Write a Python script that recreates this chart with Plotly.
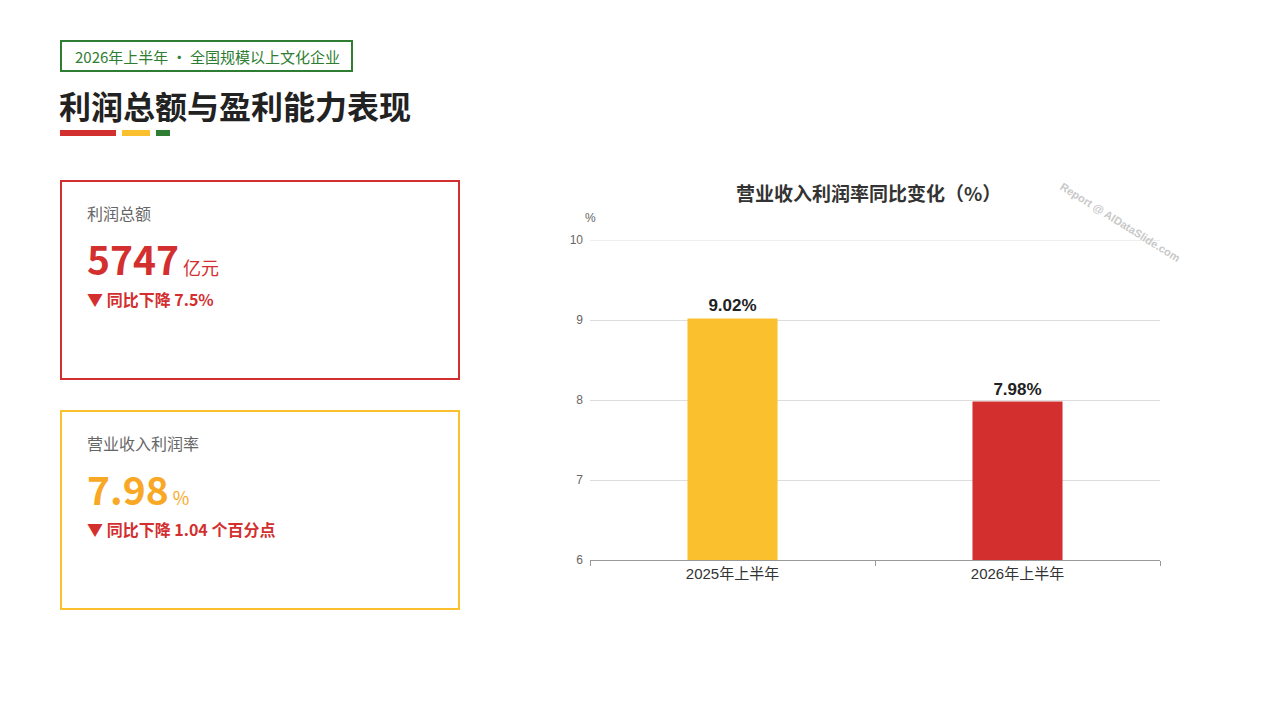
import plotly.graph_objects as go

categories = ["2025年上半年", "2026年上半年"]
margin_values = [9.02, 7.98]
bar_colors = ["#FBC02D", "#D32F2F"]
bar_labels = ["9.02%", "7.98%"]
y_ticks = [6, 7, 8, 9, 10]

W, H = 1280, 720
OFF = 8  # page offset of the figure in the browser
L, R, T, B = 590 - OFF, 1160 - OFF, 240 - OFF, 560 - OFF

def px(x):
    return (x - OFF - L) / (R - L)

def py(y):
    return (B - (y - OFF)) / (B - T)

FONT = "Noto Sans CJK SC"
CHART_FONT = "Liberation Sans, Arial, Noto Sans CJK SC"

fig = go.Figure()
fig.add_trace(go.Bar(
    x=categories, y=margin_values, marker=dict(color=bar_colors, line=dict(width=0)),
    width=0.316, text=bar_labels, textposition="outside", cliponaxis=False,
    textfont=dict(family=CHART_FONT, size=17, color="#222222"),
    texttemplate="<b>%{text}</b>", hoverinfo="skip",
))

fig.update_layout(
    width=W, height=H, paper_bgcolor="white", plot_bgcolor="white",
    margin=dict(l=L, r=W - R, t=T, b=H - B, autoexpand=False),
    showlegend=False, font=dict(family=FONT),
    xaxis=dict(type="category", tickson="boundaries", ticks="outside", ticklen=5,
               tickcolor="#999999", showline=True, linecolor="#999999", linewidth=1,
               showgrid=False, tickfont=dict(family=CHART_FONT, size=15, color="#333333")),
    yaxis=dict(range=[6, 10], tickvals=y_ticks, showgrid=True, gridcolor="#DDDDDD",
               gridwidth=1, zeroline=False, showline=False, ticks="", ticklabelstandoff=6,
               tickfont=dict(family=CHART_FONT, size=12, color="#666666")),
)

shapes = []
def rect(x0, y0, x1, y1, line=None, fill=None, lw=2):
    shapes.append(dict(type="rect", xref="paper", yref="paper",
                       x0=px(x0), x1=px(x1), y0=py(y1), y1=py(y0),
                       line=dict(color=line or "rgba(0,0,0,0)", width=lw if line else 0),
                       fillcolor=fill or "rgba(0,0,0,0)", layer="above"))

rect(61, 41, 352, 71, line="#2E7D32", lw=2)
rect(60, 130, 116, 136, fill="#D32F2F")
rect(122, 130, 150, 136, fill="#FBC02D")
rect(156, 130, 170, 136, fill="#2E7D32")
rect(61, 181, 459, 379, line="#D32F2F", lw=2)
rect(61, 411, 459, 609, line="#FBC02D", lw=2)
# top gridline at the range edge (Plotly omits it)
shapes.append(dict(type="line", xref="paper", yref="y", x0=0, x1=1,
                   y0=y_ticks[-1], y1=y_ticks[-1], line=dict(color="#DDDDDD", width=1),
                   layer="below"))
fig.update_layout(shapes=shapes)

def ann(x, y, text, size, color, xanchor="left", family=FONT, **kw):
    fig.add_annotation(xref="paper", yref="paper", x=px(x), y=py(y), text=text,
                       showarrow=False, xanchor=xanchor, yanchor="middle",
                       font=dict(family=family, size=size, color=color), **kw)

ann(73, 56, "2026年上半年 · 全国规模以上文化企业", 15, "#2E7D32")
ann(57, 105, "<b>利润总额与盈利能力表现</b>", 32, "#222222")

ann(85, 213, "利润总额", 16, "#666666")
ann(85, 258, "<b>5747</b><span style='font-size:18px'> 亿元</span>", 39, "#D32F2F")
ann(85, 299, "<b>▼ 同比下降 7.5%</b>", 16, "#D32F2F")

ann(85, 443, "营业收入利润率", 16, "#666666")
ann(85, 488, "<b>7.98</b><span style='font-size:18px'> %</span>", 39, "#F9A825")
ann(85, 529, "<b>▼ 同比下降 1.04 个百分点</b>", 16, "#D32F2F")

ann(868, 193, "<b>营业收入利润率同比变化（%）</b>", 19, "#333333", xanchor="center")
ann(590, 218, "%", 12, "#666666", xanchor="center", family=CHART_FONT)
ann(1120, 222, "<b>Report @ AIDataSlide.com</b>", 11, "#C8C8C8", xanchor="center",
    family=CHART_FONT, textangle=32)

fig.write_html("out.html")
